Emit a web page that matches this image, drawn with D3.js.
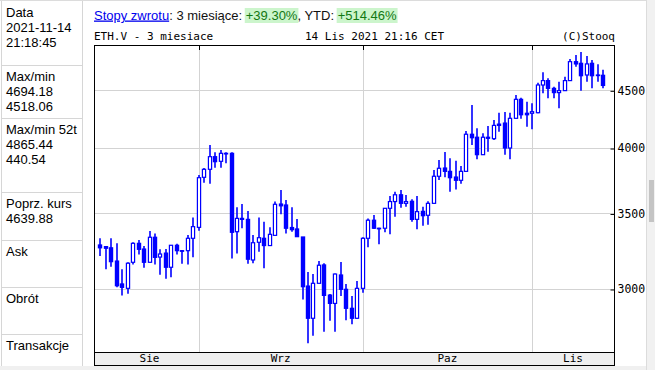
<!DOCTYPE html>
<html>
<head>
<meta charset="utf-8">
<script src="https://cdn.jsdelivr.net/npm/d3@7"></script>
<style>
  body { margin: 0; background: #fff; }
  svg { display: block; }
  svg text { white-space: pre; }
</style>
</head>
<body>
<svg id="chart" width="655" height="370"></svg>
<script>
// --- Data (ETH.V, daily, 14 Aug - 14 Nov 2021) ---
const firstDay = "2021-08-14";
const lastDay = "2021-11-14";
const open = [3282,3271,3263,3176,3031,3004,3168,3293,3255,3168,3334,3202,3228,3136,3280,3244,3244,3327,3402,3768,
  3830,3930,3893,3957,3957,3372,3465,3458,3183,3300,3327,3278,3347,3568,3561,3401,3391,3336,3018,2826,
  3035,3151,2963,2913,3087,2998,2884,2826,3004,3327,3452,3396,3396,3537,3586,3636,3573,3588,3458,3515,
  3487,3573,3776,3840,3814,3770,3745,3814,4114,4089,3946,4089,4077,4200,4209,4000,4250,4418,4294,4294,
  4299,4549,4590,4518,4479,4497,4590,4771,4755,4643,4755,4643,4640];
const high = [3327,3275,3327,3293,3123,3168,3300,3316,3275,3377,3359,3253,3255,3282,3291,3248,3349,3472,3786,3840,
  4025,3965,3984,3965,3965,3544,3568,3518,3349,3472,3442,3402,3586,3672,3598,3544,3461,3336,3106,3093,
  3176,3162,2969,3097,3170,3031,2957,3049,3334,3465,3489,3400,3537,3627,3659,3672,3634,3603,3627,3548,
  3588,3825,3904,3967,3917,3898,3856,4141,4367,4164,4122,4183,4235,4299,4305,4299,4457,4433,4397,4382,
  4571,4668,4612,4534,4580,4627,4797,4837,4865,4827,4787,4745,4694];
const low = [3209,3123,3140,3010,2960,2971,3153,3218,3133,3168,3153,3089,3063,3072,3218,3159,3153,3200,3379,3727,
  3719,3843,3843,3877,3193,3225,3396,3159,3162,3237,3130,3278,3347,3494,3359,3372,3338,2937,2685,2727,
  3035,2750,2812,2750,2957,2814,2791,2822,2977,3266,3391,3287,3368,3354,3477,3541,3548,3442,3389,3413,
  3420,3573,3747,3768,3659,3675,3719,3814,4025,3909,3946,3970,4066,4136,3946,3909,4250,4246,4178,4156,
  4294,4473,4427,4427,4338,4497,4590,4722,4497,4580,4518,4580,4518];
const close = [3263,3260,3172,3020,3010,3162,3293,3253,3168,3334,3200,3222,3136,3280,3244,3244,3327,3407,3765,3830,
  3930,3890,3957,3955,3368,3465,3458,3188,3297,3331,3278,3354,3566,3555,3396,3386,3338,3014,2826,3035,
  3149,2961,2913,3093,2998,2884,2826,3004,3327,3452,3396,3396,3537,3586,3636,3573,3586,3458,3513,3484,
  3573,3776,3838,3814,3765,3745,3814,4114,4085,3946,4089,4080,4189,4189,4000,4250,4418,4281,4281,4308,
  4549,4590,4518,4479,4497,4590,4771,4749,4636,4749,4636,4643,4545];

const priceTicks = [3000, 3500, 4000, 4500];
const monthNames = ["Sie", "Wrz", "Paz", "Lis"];

const titleLeft = "ETH.V - 3 miesiace";
const titleMid = "14 Lis 2021 21:16 CET";
const titleRight = "(C)Stooq";

const headerParts = [
  { t: "Stopy zwrotu", kind: "link" },
  { t: ": 3 miesiące: ", kind: "plain" },
  { t: "+39.30%", kind: "hl" },
  { t: ", YTD: ", kind: "plain" },
  { t: "+514.46%", kind: "hl" }
];

const infoText = [
  ["Data", "2021-11-14", "21:18:45"],
  ["Max/min", "4694.18", "4518.06"],
  ["Max/min 52t", "4865.44", "440.54"],
  ["Poprz. kurs", "4639.88"],
  ["Ask"],
  ["Obrót"],
  ["Transakcje"]
];

// --- Layout ---
const W = 655, H = 370;
const plot = { left: 94, right: 614, top: 45, bottom: 352 };
const bandBottom = 365;
const cellTops = [0, 65, 118, 192, 240, 287, 334];
const blue = "#0000ff";
const mono = "'DejaVu Sans Mono', monospace";
const sans = "'Liberation Sans', Arial, sans-serif";

const svg = d3.select("#chart");
svg.append("rect").attr("width", W).attr("height", H).attr("fill", "#fff");

const days = d3.utcDay.range(new Date(firstDay), d3.utcDay.offset(new Date(lastDay), 1));
const data = days.map((d, i) => ({ date: d, o: open[i], h: high[i], l: low[i], c: close[i] }));

const x = d3.scaleUtc()
  .domain([d3.utcHour.offset(days[0], -27.7), d3.utcHour.offset(days[days.length - 1], 48.2)])
  .range([plot.left, plot.right]);
const y = d3.scaleLog().domain([2638, 4936]).range([plot.bottom, plot.top]);

// --- Left info panel ---
const panel = svg.append("g");
panel.append("line").attr("x1", 1.5).attr("x2", 1.5).attr("y1", 0).attr("y2", 366).attr("stroke", "#d6d6d6");
panel.append("line").attr("x1", 82.5).attr("x2", 82.5).attr("y1", 0).attr("y2", 366).attr("stroke", "#d6d6d6");
panel.append("line").attr("x1", 0).attr("x2", 646).attr("y1", 0.5).attr("y2", 0.5).attr("stroke", "#dcdcdc");
cellTops.slice(1).forEach(t => {
  panel.append("line").attr("x1", 1).attr("x2", 83).attr("y1", t + 0.5).attr("y2", t + 0.5).attr("stroke", "#d6d6d6");
});
infoText.forEach((lines, ci) => {
  const base = ci === 0 ? 17 : cellTops[ci] + 16;
  lines.forEach((s, li) => {
    panel.append("text").attr("x", 6).attr("y", base + li * 15)
      .attr("font-family", sans).attr("font-size", 13).attr("fill", "#000").text(s);
  });
});

// --- Header line ---
const header = svg.append("g");
let cx = 94;
headerParts.forEach(p => {
  const t = header.append("text").attr("x", cx).attr("y", 19.5)
    .attr("xml:space", "preserve")
    .attr("font-family", sans).attr("font-size", 13).text(p.t)
    .attr("fill", p.kind === "link" ? "#0000ee" : p.kind === "hl" ? "#137813" : "#111");
  if (p.kind === "link") t.attr("text-decoration", "underline");
  const w = t.node().getComputedTextLength();
  if (p.kind === "hl") {
    header.insert("rect", "text").attr("x", cx - 1).attr("y", 8).attr("width", w + 2).attr("height", 15)
      .attr("fill", "#ccf5cc");
  }
  cx += w;
});

// --- Title row ---
const title = svg.append("g").attr("font-family", mono).attr("font-size", 11).attr("fill", "#000");
title.append("text").attr("x", 94).attr("y", 40).text(titleLeft);
title.append("text").attr("x", 305).attr("y", 40).text(titleMid);
title.append("text").attr("x", 615).attr("y", 40).attr("text-anchor", "end").text(titleRight);

// --- Grid ---
const months = d3.utcMonth.range(days[0], days[days.length - 1]);
const grid = svg.append("g").attr("stroke", "#d3d3d3").attr("stroke-width", 1);
priceTicks.forEach(p => {
  const yy = Math.round(y(p)) + 0.5;
  grid.append("line").attr("x1", plot.left).attr("x2", plot.right).attr("y1", yy).attr("y2", yy);
});
months.forEach(m => {
  const xx = Math.round(x(m)) + 0.5;
  grid.append("line").attr("x1", xx).attr("x2", xx).attr("y1", plot.top).attr("y2", plot.bottom);
});

// --- Candles ---
const candles = svg.append("g");
data.forEach(d => {
  const cxp = Math.round(x(d.date));
  const up = d.c > d.o;
  candles.append("line").attr("x1", cxp).attr("x2", cxp)
    .attr("y1", y(d.h)).attr("y2", y(d.l))
    .attr("stroke", blue).attr("stroke-width", 1.6);
  const yTop = y(Math.max(d.o, d.c)), yBot = y(Math.min(d.o, d.c));
  candles.append("rect").attr("x", cxp - 1.6).attr("width", 3.2)
    .attr("y", yTop).attr("height", Math.max(0.6, yBot - yTop))
    .attr("fill", up ? "#fff" : blue).attr("stroke", blue).attr("stroke-width", 1.2);
});

// --- Frame, ticks and axes ---
const frame = svg.append("g").attr("stroke", "#000").attr("fill", "none");
frame.append("rect").attr("x", plot.left + 0.5).attr("y", plot.top + 0.5)
  .attr("width", plot.right - plot.left).attr("height", plot.bottom - plot.top);
months.forEach(m => {
  const xx = Math.round(x(m)) + 0.5;
  frame.append("line").attr("x1", xx).attr("x2", xx).attr("y1", plot.top).attr("y2", plot.top + 5);
});

const yAxis = svg.append("g")
  .attr("transform", `translate(${plot.right + 0.5},0)`)
  .call(d3.axisRight(y).tickValues(priceTicks).tickFormat(d3.format("d")).tickSizeInner(-4).tickSizeOuter(0).tickPadding(3));
yAxis.select(".domain").remove();
yAxis.selectAll(".tick line").attr("stroke", "#000").attr("transform", "translate(0,0.5)");
yAxis.selectAll(".tick text").attr("font-family", mono).attr("font-size", 11.5).attr("fill", "#000");

// month band
svg.append("rect").attr("x", plot.left + 0.5).attr("y", plot.bottom + 0.5)
  .attr("width", plot.right - plot.left).attr("height", bandBottom - plot.bottom)
  .attr("fill", "#efefef").attr("stroke", "#000");
const bounds = [x(days[0])].concat(months.map(m => x(m)), [plot.right]);
monthNames.forEach((name, i) => {
  svg.append("text").attr("x", (bounds[i] + bounds[i + 1]) / 2).attr("y", 362)
    .attr("text-anchor", "middle").attr("font-family", mono).attr("font-size", 11)
    .attr("fill", "#000").text(name);
});

// --- page chrome: bottom strip and scrollbar ---
svg.append("rect").attr("x", 0).attr("y", 366).attr("width", W).attr("height", 4).attr("fill", "#f0f0f0");
svg.append("rect").attr("x", 647).attr("y", 0).attr("width", 8).attr("height", H).attr("fill", "#f1f1f1");
svg.append("line").attr("x1", 646.5).attr("x2", 646.5).attr("y1", 0).attr("y2", H).attr("stroke", "#dcdcdc");
svg.append("rect").attr("x", 649).attr("y", 180).attr("width", 5).attr("height", 42).attr("fill", "#c4c4c4");
</script>
</body>
</html>
